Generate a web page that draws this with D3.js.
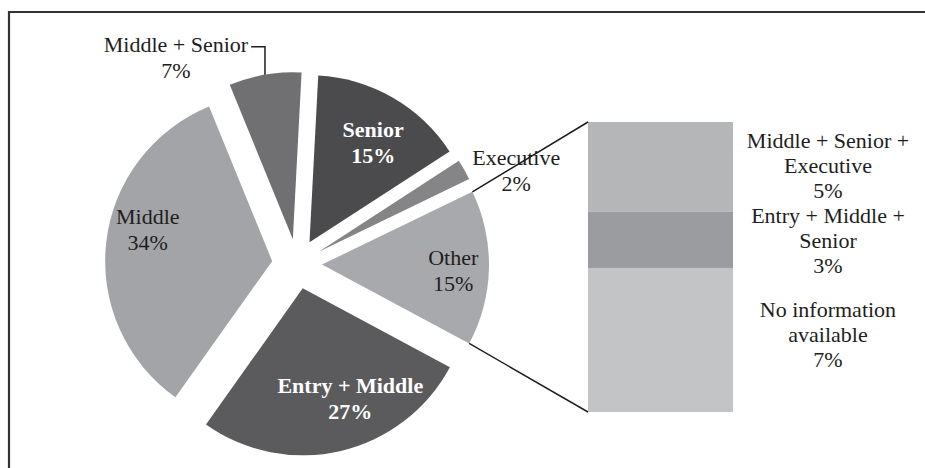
<!DOCTYPE html>
<html>
<head>
<meta charset="utf-8">
<script src="https://cdn.jsdelivr.net/npm/d3@7"></script>
<style>
	html, body { margin: 0; padding: 0; background: #fff; }
	svg { display: block; font-family: "Liberation Serif", "Times New Roman", serif; }
</style>
</head>
<body>
<svg id="chart"></svg>
<script>
// pie data, clockwise from 12 o'clock
const categories = ["Senior", "Executive", "Other", "Entry + Middle", "Middle", "Middle + Senior"];
const shares = [15, 2, 15, 27, 34, 7];
const sliceColors = ["#4b4b4d", "#858588", "#a8a9ac", "#5b5b5d", "#a3a4a7", "#707073"];

// breakdown of "Other"
const otherParts = ["Middle + Senior + Executive", "Entry + Middle + Senior", "No information available"];
const otherLines = [["Middle + Senior +", "Executive"], ["Entry + Middle +", "Senior"], ["No information", "available"]];
const otherShares = [4.6, 2.9, 7.4];
const otherColors = ["#b5b6b8", "#9b9c9f", "#c3c4c6"];

const width = 925;
const height = 468;

const cx = 297;
const cy = 264;
const radius = 167;
const explode = 25;
const startOffset = 3 * Math.PI / 180;
const fontSize = 22;
const lineH = 26;

// where the outside labels go
const outside = {
	"Executive": { dx: 52, dy: -5 },
	"Middle + Senior": { dx: -89, dy: -23 },
};
// small shifts for labels inside the slices
const nudge = {
	"Senior": [1, 8],
	"Other": [6, 3],
	"Entry + Middle": [19, -12],
	"Middle": [0, -17],
};
// vertical shift of the bar labels
const barLabelShift = [-1, 1, -6];

const svg = d3.select("#chart").attr("width", width).attr("height", height);

// frame
svg.append("path")
	.attr("d", `M9,${height} V12 H${width}`)
	.attr("fill", "none")
	.attr("stroke", "#333")
	.attr("stroke-width", 2.2);

const pie = d3.pie().sort(null).value((d) => d.value)
	.startAngle(startOffset).endAngle(2 * Math.PI + startOffset);
const arcs = pie(categories.map((c, i) => ({ name: c, value: shares[i], color: sliceColors[i] })));
const arc = d3.arc().innerRadius(0).outerRadius(radius);

const dir = (a) => [Math.sin(a), -Math.cos(a)];
const mid = (d) => (d.startAngle + d.endAngle) / 2;

const sliceG = svg.append("g").attr("transform", `translate(${cx},${cy})`);

arcs.forEach((d) => {
	const [ux, uy] = dir(mid(d));
	const g = sliceG.append("g").attr("transform", `translate(${ux * explode},${uy * explode})`);
	g.append("path").attr("d", arc(d)).attr("fill", d.data.color);
});

function twoLines(x, y, lines, opts) {
	const t = svg.append("text")
		.attr("x", x)
		.attr("y", y)
		.attr("text-anchor", "middle")
		.attr("font-size", fontSize)
		.attr("fill", opts.fill || "#1e1e1e")
		.attr("font-weight", opts.bold ? "bold" : "normal");
	lines.forEach((l, i) => {
		t.append("tspan").attr("x", x).attr("y", y + i * (opts.lh || lineH)).text(l);
	});
	return t;
}

// pie labels
arcs.forEach((d) => {
	const name = d.data.name;
	const [ux, uy] = dir(mid(d));
	const pct = d.data.value + "%";
	if (outside[name]) {
		const o = outside[name];
		const px = cx + ux * (explode + radius);
		const py = cy + uy * (explode + radius);
		const t = twoLines(px + o.dx, py + o.dy, [name, pct], {});
		if (name === "Middle + Senior") {
			const w = t.select("tspan").node().getComputedTextLength();
			const x0 = px + o.dx + w / 2 + 3;
			const y0 = py + o.dy - 5;
			svg.append("path")
				.attr("d", `M${x0},${y0} H${px} V${py}`)
				.attr("fill", "none")
				.attr("stroke", "#1e1e1e")
				.attr("stroke-width", 1.5);
		}
	} else {
		const n = nudge[name] || [0, 0];
		const lx = cx + ux * (explode + radius * 0.75) + n[0];
		const ly = cy + uy * (explode + radius * 0.75) + n[1];
		const dark = d3.hsl(d.data.color).l < 0.4;
		twoLines(lx, ly - lineH / 2 + 7.7, [name, pct], { fill: dark ? "#fff" : "#1e1e1e", bold: dark });
	}
});

// bar of "Other"
const barX0 = 588;
const barX1 = 733;
const y = d3.scaleLinear().domain([0, d3.sum(otherShares)]).range([122, 412]);
const stacked = d3.cumsum(otherShares);

otherShares.forEach((v, i) => {
	const top = y(stacked[i] - v);
	const bot = y(stacked[i]);
	svg.append("rect")
		.attr("x", barX0)
		.attr("y", top)
		.attr("width", barX1 - barX0)
		.attr("height", bot - top)
		.attr("fill", otherColors[i]);
	const mY = (top + bot) / 2 + barLabelShift[i];
	twoLines(828, mY - 25 + 7.7, [...otherLines[i], Math.round(v) + "%"], { lh: 25 })
		.attr("aria-label", otherParts[i]);
});

// connector lines from "Other" slice to the bar
const otherArc = arcs.find((d) => d.data.name === "Other");
const [ox, oy] = dir(mid(otherArc));
const ocx = cx + ox * explode;
const ocy = cy + oy * explode;
const [sx, sy] = dir(otherArc.startAngle);
const [ex, ey] = dir(otherArc.endAngle);
[[sx, sy, y(0)], [ex, ey, y(d3.sum(otherShares))]].forEach(([ux, uy, by]) => {
	svg.append("line")
		.attr("x1", ocx + ux * radius)
		.attr("y1", ocy + uy * radius)
		.attr("x2", barX0)
		.attr("y2", by)
		.attr("stroke", "#1e1e1e")
		.attr("stroke-width", 1.5);
});
</script>
</body>
</html>
